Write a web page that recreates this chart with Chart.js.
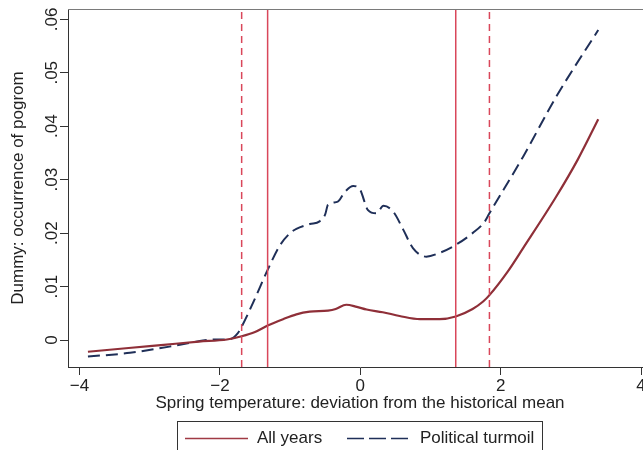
<!DOCTYPE html>
<html>
<head>
<meta charset="utf-8">
<script src="https://cdn.jsdelivr.net/npm/chart.js@4"></script>
<style>
  html, body { margin: 0; padding: 0; background: #fff; overflow: hidden; }
  #wrap { width: 652px; height: 450px; }
</style>
</head>
<body>
<div id="wrap"><canvas id="myChart" width="652" height="450"></canvas></div>
<script>
// Spring temperature deviation (x) and estimated pogrom probability (y)
var allYearsX = [-3.88, -3.3, -2.8, -2.3, -1.9, -1.69, -1.5, -1.32, -1.1, -0.91, -0.72, -0.46, -0.35, -0.2, -0.05, 0.09, 0.32, 0.56, 0.85, 1.13, 1.36, 1.6, 1.75, 1.84, 2.1, 2.32, 2.79, 3.1, 3.39];
var allYearsY = [-0.0022, -0.0015, -0.0009, -0.0003, 0.0001, 0.0007, 0.0015, 0.0027, 0.0039, 0.0048, 0.0053, 0.0055, 0.0058, 0.0066, 0.0062, 0.0057, 0.0052, 0.0045, 0.0039, 0.0039, 0.0044, 0.0058, 0.0072, 0.0084, 0.0128, 0.0172, 0.0268, 0.0338, 0.0413];

var turmoilX = [-3.88, -3.28, -2.57, -2.19, -2.0, -1.85, -1.75, -1.69, -1.53, -1.31, -1.15, -1.0, -0.91, -0.72, -0.58, -0.5, -0.46, -0.32, -0.22, -0.1, -0.01, 0.11, 0.23, 0.33, 0.47, 0.61, 0.75, 0.94, 1.13, 1.36, 1.6, 1.77, 1.84, 2.32, 2.79, 3.39];
var turmoilY = [-0.0031, -0.0024, -0.0009, 0.0, 0.0001, 0.0002, 0.0012, 0.0025, 0.0069, 0.0134, 0.0176, 0.0200, 0.0208, 0.0217, 0.0222, 0.0235, 0.0253, 0.0259, 0.0277, 0.0288, 0.0283, 0.0243, 0.0237, 0.0251, 0.0240, 0.0207, 0.0172, 0.0156, 0.0163, 0.0178, 0.0200, 0.0221, 0.0237, 0.0343, 0.0455, 0.0580];

// Vertical reference lines (dashed outer, solid inner)
var dashedCuts = [-1.69, 1.84];
var solidCuts = [-1.32, 1.36];

var xTicks = [-4, -2, 0, 2, 4];
var yTicks = [0, 0.01, 0.02, 0.03, 0.04, 0.05, 0.06];

var xMin = -4.164, xMax = 4.156;
var yMin = -0.00505, yMax = 0.06193;

var fontFamily = '"Liberation Sans", Arial, sans-serif';
var axisColor = '#333333';
var cutColor = '#d9475a';

function toPoints(xs, ys) {
  return xs.map(function (x, i) { return { x: x, y: ys[i] }; });
}

function cutLine(x, dashed) {
  return {
    label: 'cut',
    data: [{ x: x, y: yMin }, { x: x, y: yMax }],
    borderColor: cutColor,
    borderWidth: 1.5,
    borderDash: dashed ? [7, 5] : [],
    pointRadius: 0,
    tension: 0
  };
}

// Draws the gray top border and the boxed legend under the axis title
var framePlugin = {
  id: 'frame',
  afterDraw: function (chart) {
    var ctx = chart.ctx;
    var area = chart.chartArea;
    ctx.save();
    ctx.strokeStyle = '#7a7a7a';
    ctx.lineWidth = 1;
    ctx.beginPath();
    ctx.moveTo(area.left, area.top + 0.5);
    ctx.lineTo(area.right, area.top + 0.5);
    ctx.stroke();

    // legend box
    ctx.strokeStyle = axisColor;
    ctx.strokeRect(177.5, 421.5, 365, 40);
    ctx.lineWidth = 1.5;
    ctx.strokeStyle = '#a03a44';
    ctx.beginPath();
    ctx.moveTo(185, 438.5);
    ctx.lineTo(248, 438.5);
    ctx.stroke();
    ctx.strokeStyle = '#1f2f58';
    ctx.setLineDash([17, 5]);
    ctx.beginPath();
    ctx.moveTo(347, 438.5);
    ctx.lineTo(409, 438.5);
    ctx.stroke();
    ctx.setLineDash([]);
    ctx.fillStyle = '#222';
    ctx.font = '17px ' + fontFamily;
    ctx.textBaseline = 'middle';
    ctx.fillText('All years', 257, 438);
    ctx.fillText('Political turmoil', 420, 438);
    ctx.restore();
  }
};

var ctx = document.getElementById('myChart').getContext('2d');
var myChart = new Chart(ctx, {
  type: 'line',
  data: {
    datasets: [
      cutLine(dashedCuts[0], true),
      cutLine(solidCuts[0], false),
      cutLine(solidCuts[1], false),
      cutLine(dashedCuts[1], true),
      {
        label: 'All years',
        data: toPoints(allYearsX, allYearsY),
        borderColor: '#8f2f38',
        borderWidth: 2.2,
        pointRadius: 0,
        cubicInterpolationMode: 'monotone'
      },
      {
        label: 'Political turmoil',
        data: toPoints(turmoilX, turmoilY),
        borderColor: '#1f2f58',
        borderWidth: 2,
        borderDash: [12, 6],
        pointRadius: 0,
        cubicInterpolationMode: 'monotone'
      }
    ]
  },
  options: {
    responsive: false,
    animation: false,
    devicePixelRatio: 1,
    layout: { padding: { top: 9, right: 0, bottom: 33, left: 0 } },
    plugins: {
      legend: { display: false },
      tooltip: { enabled: false }
    },
    scales: {
      x: {
        type: 'linear',
        min: xMin,
        max: xMax,
        afterBuildTicks: function (scale) {
          scale.ticks = xTicks.map(function (v) { return { value: v }; });
        },
        afterFit: function (scale) { scale.height = 50; },
        grid: { drawOnChartArea: false, color: axisColor, tickLength: 8 },
        border: { color: axisColor, width: 1 },
        ticks: {
          color: '#222',
          font: { family: fontFamily, size: 17 },
          padding: 1,
          maxRotation: 0,
          callback: function (v) { return String(v).replace('-', '\u2212'); }
        },
        title: {
          display: true,
          text: 'Spring temperature: deviation from the historical mean',
          color: '#222',
          font: { family: fontFamily, size: 17 },
          padding: { top: 0, bottom: 3 }
        }
      },
      y: {
        min: yMin,
        max: yMax,
        afterBuildTicks: function (scale) {
          scale.ticks = yTicks.map(function (v) { return { value: v }; });
        },
        afterFit: function (scale) { scale.width = 68; },
        grid: { drawOnChartArea: false, color: axisColor, tickLength: 8 },
        border: { color: axisColor, width: 1 },
        ticks: {
          color: '#222',
          font: { family: fontFamily, size: 17 },
          minRotation: 90,
          maxRotation: 90,
          crossAlign: 'center',
          padding: -4,
          callback: function (v) {
            return v === 0 ? '0' : v.toFixed(2).replace(/^0/, '');
          }
        },
        title: {
          display: true,
          text: 'Dummy: occurrence of pogrom',
          color: '#222',
          font: { family: fontFamily, size: 17 },
          padding: { top: 8, bottom: 0 }
        }
      }
    }
  },
  plugins: [framePlugin]
});
</script>
</body>
</html>
